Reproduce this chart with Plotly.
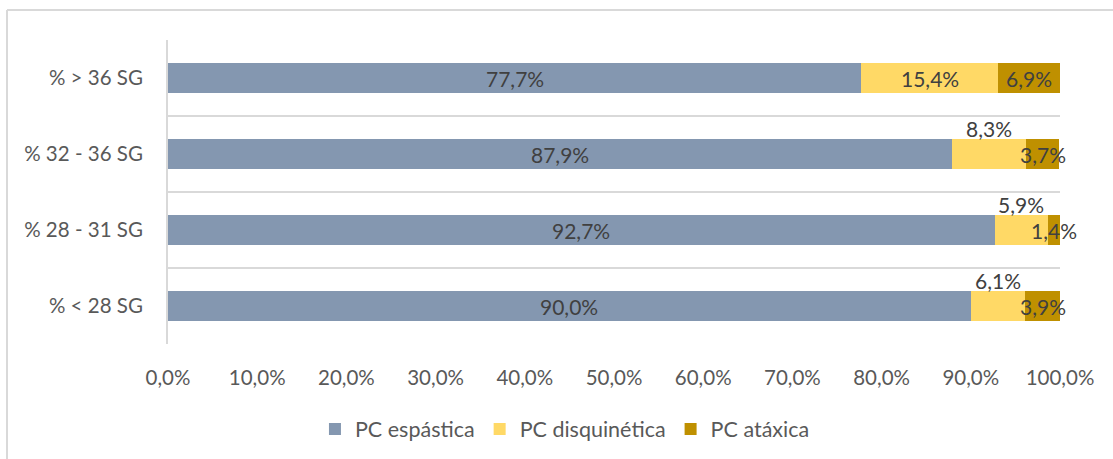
import plotly.graph_objects as go

# Categories listed bottom-to-top (Plotly draws the first category at the bottom)
categories = ["% < 28 SG", "% 28 - 31 SG", "% 32 - 36 SG", "% > 36 SG"]
espastica = [90.0, 92.7, 87.9, 77.7]
disquinetica = [6.1, 5.9, 8.3, 15.4]
ataxica = [3.9, 1.4, 3.7, 6.9]

series = [
    ("PC espástica", espastica, "#8497B0"),
    ("PC disquinética", disquinetica, "#FFD966"),
    ("PC atáxica", ataxica, "#BF9000"),
]

FONT = "Lato"
TXT = "#595959"
LBL = "#404040"
GRID = "#D9D9D9"

fig = go.Figure()
for name, vals, color in series:
    fig.add_trace(go.Bar(
        name=name,
        y=categories,
        x=[v / 100 for v in vals],
        orientation="h",
        width=0.4,
        marker=dict(color=color, line=dict(width=0)),
        hoverinfo="skip",
    ))


def fmt(v):
    return f"{v:.1f}".replace(".", ",") + "%"


# Data labels centred on each segment; small disquinética values sit above the bar
annotations = []
for i, cat in enumerate(categories):
    left = 0.0
    for name, vals, color in series:
        v = vals[i]
        center = (left + v / 2) / 100
        above = name == "PC disquinética" and v < 10
        annotations.append(dict(
            x=center, y=cat, xref="x", yref="y",
            text=fmt(v), showarrow=False,
            yshift=26 if above else 0,
            font=dict(family=FONT, size=21, color=LBL),
        ))
        left += v

fig.update_layout(
    width=1113, height=459,
    margin=dict(l=168, r=53, t=40, b=115, autoexpand=False),
    paper_bgcolor="white", plot_bgcolor="white",
    barmode="stack",
    bargap=0.6,
    separators=",.",
    font=dict(family=FONT, size=20, color=TXT),
    annotations=annotations,
    showlegend=True,
    legend=dict(
        orientation="h",
        xref="container", yref="container",
        x=0.5076, xanchor="center",
        y=0.0654, yanchor="middle",
        font=dict(family=FONT, size=21.5, color=TXT),
        traceorder="normal",
        itemwidth=30,
        itemclick=False, itemdoubleclick=False,
    ),
    xaxis=dict(
        range=[0, 1],
        tickvals=[i / 10 for i in range(11)],
        tickformat=".1%",
        showgrid=False, zeroline=False, showline=False,
        ticks="", ticklabelstandoff=19,
        tickfont=dict(family=FONT, size=20.5, color=TXT),
        fixedrange=True,
    ),
    yaxis=dict(
        type="category",
        categoryorder="array", categoryarray=categories,
        tickson="boundaries",
        showgrid=True, gridcolor=GRID, gridwidth=2,
        showline=True, linecolor=GRID, linewidth=2,
        ticks="", ticklabelstandoff=19,
        tickfont=dict(family=FONT, size=20.5, color=TXT),
        fixedrange=True,
    ),
    shapes=[
        # outer chart frame (top and left edges)
        dict(type="line", xref="paper", yref="paper",
             x0=-0.1805, x1=1.2, y0=1.0987, y1=1.0987,
             line=dict(color=GRID, width=2)),
        dict(type="line", xref="paper", yref="paper",
             x0=-0.1805, x1=-0.1805, y0=1.0987, y1=-0.6,
             line=dict(color=GRID, width=2)),
    ],
)

fig.write_html("out.html", config={"displayModeBar": False})
